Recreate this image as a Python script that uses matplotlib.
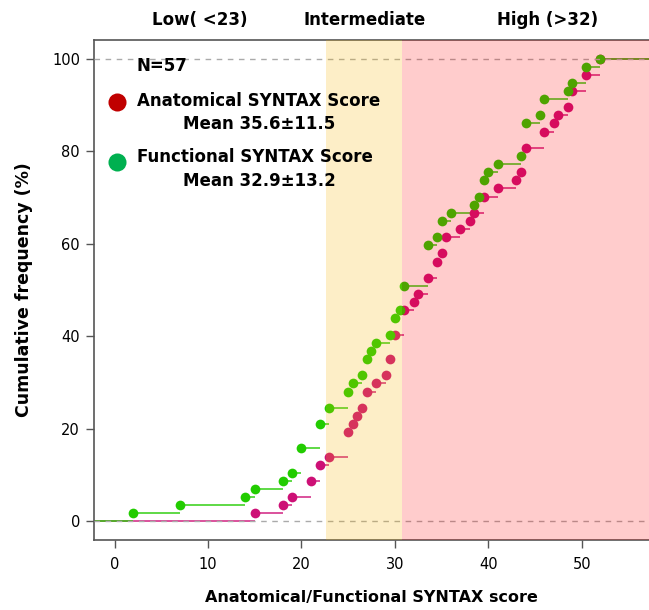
import matplotlib
matplotlib.use('Agg')
import matplotlib.pyplot as plt
import numpy as np

plt.rcParams['font.family'] = 'DejaVu Sans'

# SYNTAX scores (57 patients each)
anatomical = [15, 18, 19, 21, 21, 22, 22, 23, 25, 25, 25, 25.5, 26, 26.5, 27, 27, 28, 29,
              29.5, 29.5, 30, 30, 30, 31, 31, 31, 32, 32.5, 33.5, 33.5, 34.5, 34.5, 35,
              35.5, 35.5, 37, 38, 38.5, 39.5, 39.5, 41, 43, 43.5, 44, 44, 44, 46, 46, 47,
              47.5, 48.5, 49, 49, 50.5, 50.5, 52, 52]
functional = [2, 7, 14, 15, 18, 19, 20, 20, 20, 22, 22, 22, 23, 23, 25, 25, 25.5, 26.5,
              27, 27, 27.5, 28, 29.5, 30, 30, 30.5, 31, 31, 31, 33.5, 33.5, 33.5, 33.5,
              33.5, 34.5, 35, 35, 36, 38.5, 39, 39.5, 39.5, 40, 41, 43.5, 44, 44, 44, 44,
              45.5, 46, 46, 48.5, 49, 50.5, 50.5, 52]

zone_labels = ['Low( <23)', 'Intermediate', 'High (>32)']
zone_edges = [22.6, 30.8]

xmin, xmax = -2.2, 57.2

fig = plt.figure(figsize=(6.49, 6.10), dpi=100)
ax = fig.add_axes([94 / 649, 70 / 610, 555 / 649, 500 / 610])


def draw_ecdf(ax, values, color):
    u, counts = np.unique(np.asarray(values, dtype=float), return_counts=True)
    F = np.cumsum(counts) / len(values) * 100
    left = np.concatenate([[xmin], u])
    right = np.concatenate([u, [xmax]])
    levels = np.concatenate([[0], F])
    ax.hlines(levels, left, right, color=color, linewidth=1.2, alpha=0.85, zorder=2)
    ax.plot(u, F, 'o', color=color, markersize=7, markeredgewidth=0, zorder=3)


draw_ecdf(ax, anatomical, '#cd1076')
draw_ecdf(ax, functional, '#22cc00')

ax.axhline(0, color='#aaaaaa', linestyle=(0, (4, 4)), linewidth=1, zorder=4)
ax.axhline(100, color='#aaaaaa', linestyle=(0, (4, 4)), linewidth=1, zorder=4)

# shaded bands drawn on top, semi-transparent
ax.axvspan(zone_edges[0], zone_edges[1], color=(0.97, 0.70, 0.0), alpha=0.22, lw=0, zorder=5)
ax.axvspan(zone_edges[1], xmax, color=(1.0, 0.0, 0.0), alpha=0.2, lw=0, zorder=5)

ax.set_xlim(xmin, xmax)
ax.set_ylim(-4, 104)
ax.set_xticks(np.arange(0, 51, 10))
ax.set_yticks(np.arange(0, 101, 20))
ax.tick_params(labelsize=10.5, length=6, width=1, color='#555555', pad=4)
ax.tick_params(axis='x', pad=6)
for side in ['left', 'bottom', 'top']:
    ax.spines[side].set_color('#555555')
    ax.spines[side].set_linewidth(1.2)
ax.spines['right'].set_visible(False)

ax.set_xlabel('Anatomical/Functional SYNTAX score', fontsize=11.5, fontweight='bold', labelpad=13)
ax.set_ylabel('Cumulative frequency (%)', fontsize=12.5, fontweight='bold', labelpad=14)

# zone labels above the plot
for lab, xc in zip(zone_labels, [200, 365, 548]):
    fig.text(xc / 649, 1 - 20 / 610, lab, fontsize=12, fontweight='bold',
             ha='center', va='center')

# hand-made legend
fig.text(137 / 649, 1 - 66 / 610, 'N=57', fontsize=12, fontweight='bold', va='center')
fig.text(137 / 649, 1 - 101 / 610, 'Anatomical SYNTAX Score', fontsize=12, fontweight='bold', va='center')
fig.text(259 / 649, 1 - 124 / 610, 'Mean 35.6\u00b111.5', fontsize=12, fontweight='bold', va='center', ha='center')
fig.text(137 / 649, 1 - 157 / 610, 'Functional SYNTAX Score', fontsize=12, fontweight='bold', va='center')
fig.text(259 / 649, 1 - 181 / 610, 'Mean 32.9\u00b113.2', fontsize=12, fontweight='bold', va='center', ha='center')
fig.lines.append(plt.Line2D([117 / 649], [1 - 102 / 610], marker='o', markersize=13, color='#c00000',
                            markeredgewidth=0, transform=fig.transFigure))
fig.lines.append(plt.Line2D([117 / 649], [1 - 162 / 610], marker='o', markersize=13, color='#00b050',
                            markeredgewidth=0, transform=fig.transFigure))

fig.savefig('out.png', dpi=100)
